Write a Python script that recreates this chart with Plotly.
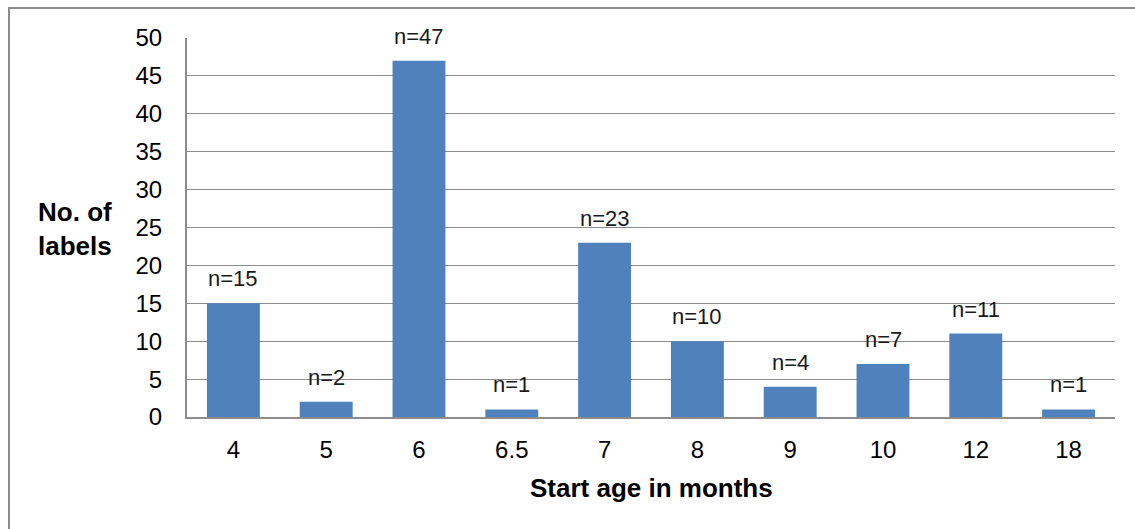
import plotly.graph_objects as go

ages = ["4", "5", "6", "6.5", "7", "8", "9", "10", "12", "18"]
counts = [15, 2, 47, 1, 23, 10, 4, 7, 11, 1]
count_labels = ["n=15", "n=2", "n=47", "n=1", "n=23", "n=10", "n=4", "n=7", "n=11", "n=1"]
y_ticks = [0, 5, 10, 15, 20, 25, 30, 35, 40, 45, 50]

FONT = "Liberation Sans, Arial, sans-serif"
GRID = "#8c8c8c"

fig = go.Figure(
    go.Bar(
        x=list(range(len(ages))),
        y=counts,
        marker=dict(color="#4f81bd", line=dict(width=0)),
        hovertext=ages,
        hoverinfo="text+y",
    )
)

for i, (c, t) in enumerate(zip(counts, count_labels)):
    fig.add_annotation(
        x=i, y=c, text=t, showarrow=False, yanchor="bottom", yshift=10,
        font=dict(family=FONT, size=22, color="#1a1a1a"),
    )

# axis titles
fig.add_annotation(
    xref="paper", yref="paper", x=(75 - 187) / 928, y=(417 - 229) / 379,
    text="<b>No. of<br>labels</b>", showarrow=False, xanchor="center", yanchor="middle",
    font=dict(family=FONT, size=26, color="#000000"), align="center",
)
fig.add_annotation(
    xref="paper", yref="paper", x=(651 - 187) / 928, y=(417 - 488) / 379,
    text="<b>Start age in months</b>", showarrow=False, xanchor="center", yanchor="middle",
    font=dict(family=FONT, size=26, color="#000000"),
)

# outer chart frame
fig.add_shape(
    type="rect", xref="paper", yref="paper",
    x0=(9 - 187) / 928, x1=(1140 - 187) / 928,
    y0=(417 - 540) / 379, y1=(417 - 8) / 379,
    line=dict(color="#8c8c8c", width=2), fillcolor="rgba(0,0,0,0)", layer="below",
)

fig.update_layout(
    width=1135, height=529,
    margin=dict(l=187, r=20, t=38, b=112),
    paper_bgcolor="white", plot_bgcolor="white",
    bargap=0.43, showlegend=False,
    font=dict(family=FONT, size=24, color="#000000"),
)
fig.update_xaxes(
    range=[-0.5, len(ages) - 0.5], tickvals=list(range(len(ages))), ticktext=ages,
    showgrid=False, showline=True, linecolor=GRID, linewidth=2,
    ticks="", ticklabelstandoff=10, tickfont=dict(family=FONT, size=24),
)
fig.update_yaxes(
    range=[0, 50], tickvals=y_ticks, showgrid=True, gridcolor=GRID, gridwidth=1,
    showline=True, linecolor=GRID, linewidth=2, ticks="", zeroline=False,
    ticklabelstandoff=18, tickfont=dict(family=FONT, size=24),
)

fig.write_html("out.html")
